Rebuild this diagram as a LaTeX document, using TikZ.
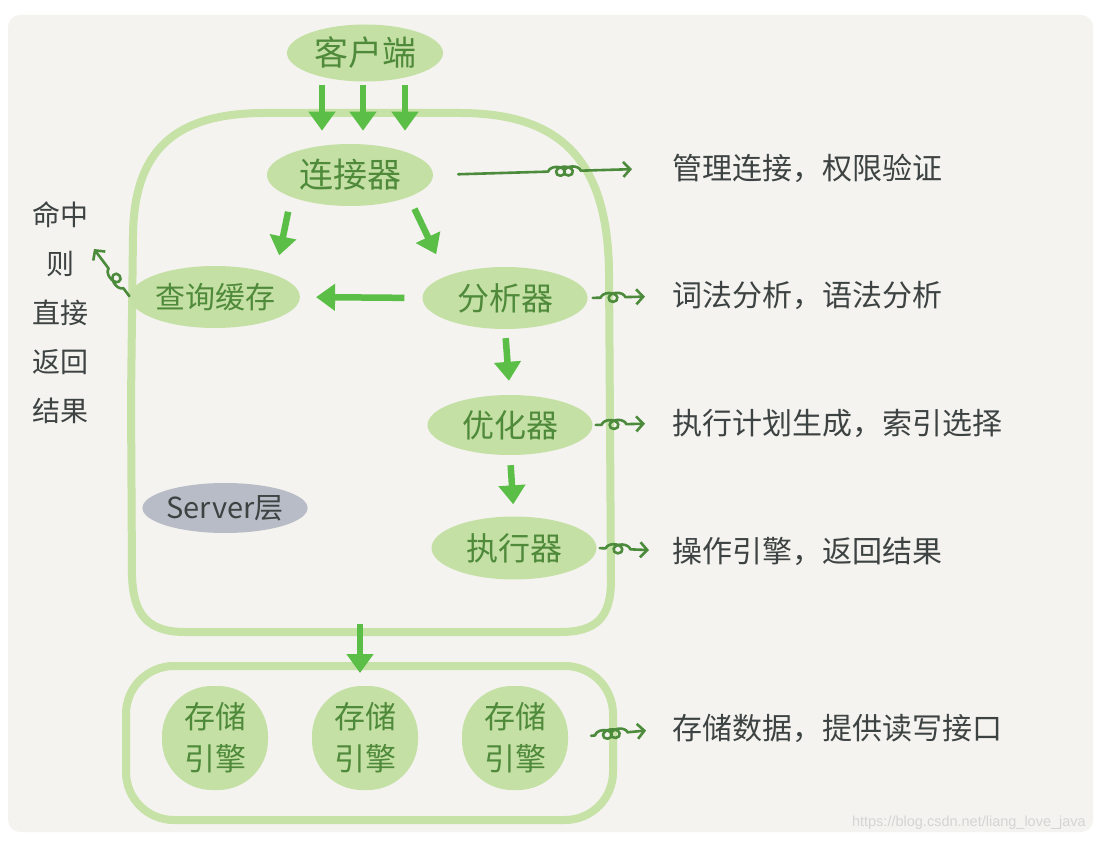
\documentclass[tikz,border=0pt]{standalone}
\usepackage{fontspec}
\setmainfont{Noto Sans CJK SC}
\newfontfamily\wmfont{Liberation Sans}
\usetikzlibrary{arrows.meta,shapes.geometric,decorations.pathmorphing}
\definecolor{panelbg}{HTML}{F4F3EF}
\definecolor{nodefill}{HTML}{C5E0A5}
\definecolor{outline}{HTML}{C6E2A6}
\definecolor{nodetext}{HTML}{4F8A3B}
\definecolor{brightarrow}{HTML}{5BBE47}
\definecolor{thinarrow}{HTML}{4B8B3B}
\definecolor{labeltext}{HTML}{3D4342}
\definecolor{serverfill}{HTML}{B8BCC6}
\tikzset{
  compnode/.style={ellipse, fill=nodefill, inner sep=0pt, text=nodetext,
    font=\fontsize{32}{36}\selectfont},
  storenode/.style={rectangle, rounded corners=50pt, fill=nodefill, inner sep=0pt,
    minimum width=106pt, minimum height=104pt, text=nodetext, align=center,
    font=\fontsize{31}{42}\selectfont},
  sidelabel/.style={anchor=west, inner sep=0pt, text=labeltext,
    font=\fontsize{30}{36}\selectfont},
  bigarrow/.style={draw=brightarrow, line width=6.5pt,
    -{Triangle[width=26pt,length=19pt]}},
  loopy/.style={draw=thinarrow, line width=2.6pt, line cap=round, line join=round,
    -{Straight Barb[length=7pt,width=15pt,line width=2.6pt]}, decorate,
    decoration={coil, amplitude=4.5pt, aspect=1.4, segment length=8pt}},
  frame/.style={draw=outline, line width=8pt}
}
\begin{document}
\begin{tikzpicture}[x=1pt,y=-1pt]
\useasboundingbox (0,0) rectangle (1096,842);
\fill[white] (0,0) rectangle (1096,842);
\fill[panelbg, rounded corners=12pt] (8,15) rectangle (1093,832);

% server frame
\draw[frame] (131,400) -- (133,235) .. controls (134,150) and (175,113) .. (265,113)
  -- (460,113) .. controls (565,113) and (607,165) .. (609,270)
  -- (611,580) .. controls (611,618) and (596,632) .. (560,632)
  -- (185,632) .. controls (148,632) and (133,615) .. (132,575) -- cycle;

% storage frame
\draw[frame, rounded corners=48pt] (126,666) rectangle (613,820);

% nodes
\node[compnode, minimum width=156pt, minimum height=57pt, font=\fontsize{34}{38}\selectfont] (client) at (365,53) {客户端};
\node[compnode, minimum width=166pt, minimum height=62pt, font=\fontsize{34}{38}\selectfont] (conn) at (350,175) {连接器};
\node[compnode, minimum width=156pt, minimum height=62pt, font=\fontsize{30}{36}\selectfont] (qc) at (215,297) {查询缓存};
\node[compnode, minimum width=165pt, minimum height=62pt] (ana) at (505,298) {分析器};
\node[compnode, minimum width=165pt, minimum height=60pt] (opt) at (510,425) {优化器};
\node[compnode, minimum width=165pt, minimum height=63pt] (exe) at (514,548) {执行器};
\node[ellipse, fill=serverfill, inner sep=0pt, minimum width=165pt, minimum height=50pt,
  text=labeltext, font=\fontsize{29}{34}\selectfont] (srv) at (225,508) {Server层};

\node[storenode] (s1) at (215,738) {存储\\引擎};
\node[storenode] (s2) at (365,738) {存储\\引擎};
\node[storenode] (s3) at (515,738) {存储\\引擎};

% side labels
\node[sidelabel] (t1) at (672,168) {管理连接，权限验证};
\node[sidelabel] (t2) at (672,296) {词法分析，语法分析};
\node[sidelabel] (t3) at (672,423) {执行计划生成，索引选择};
\node[sidelabel] (t4) at (672,551) {操作引擎，返回结果};
\node[sidelabel] (t5) at (672,728) {存储数据，提供读写接口};
\node[inner sep=0pt, align=center, text=labeltext,
  font=\fontsize{28}{49}\selectfont] (hit) at (60,313) {命中\\则\\直接\\返回\\结果};
\coordinate (hitpt) at (94,249);

% watermark
\node[anchor=east, inner sep=0pt, text=black!17, font=\wmfont\fontsize{14.5}{16}\selectfont]
  (wm) at (1086,823) {https://blog.csdn.net/liang\_love\_java};

% big arrows
\draw[bigarrow] ([xshift=-43pt,yshift=-3pt]client.south) -- ++(0,46);
\draw[bigarrow] ([xshift=-2pt,yshift=-3pt]client.south) -- ++(0,46);
\draw[bigarrow] ([xshift=40pt,yshift=-3pt]client.south) -- ++(0,46);
\draw[bigarrow, shorten <=15pt, shorten >=20pt] (conn.south west) -- (qc.north east);
\draw[bigarrow, shorten <=13pt, shorten >=24pt] (conn.south east) -- (ana.north west);
\draw[bigarrow, shorten <=18pt, shorten >=16pt] (ana.west) -- (qc.east);
\draw[bigarrow, shorten <=9pt, shorten >=14pt] (ana.south) -- (opt.north);
\draw[bigarrow, shorten <=10pt, shorten >=12pt] (opt.south) -- (exe.north);
\coordinate (sv) at (360,624);
\coordinate (stg) at (360,673);
\draw[bigarrow] (sv) -- (stg);

% loopy arrows
\draw[loopy, decoration={pre length=115pt, post length=90pt},
  shorten <=25pt, shorten >=40pt] (conn.east) -- (t1.west);
\draw[loopy, decoration={pre length=13pt, post length=43pt},
  shorten <=5pt, shorten >=27pt] (ana.east) -- (t2.west);
\draw[loopy, decoration={pre length=9pt, post length=43pt},
  shorten <=3pt, shorten >=27pt] (opt.east) -- (t3.west);
\draw[loopy, decoration={pre length=9pt, post length=39pt},
  shorten <=3pt, shorten >=23pt] (exe.east) -- (t4.west);
\draw[loopy, decoration={pre length=27pt, post length=44pt},
  shorten <=23pt, shorten >=26pt] (s3.east) -- (t5.west);
\draw[loopy, decoration={pre length=11pt, post length=17pt},
  shorten <=1pt] (qc.west) -- (hitpt);
\end{tikzpicture}
\end{document}
